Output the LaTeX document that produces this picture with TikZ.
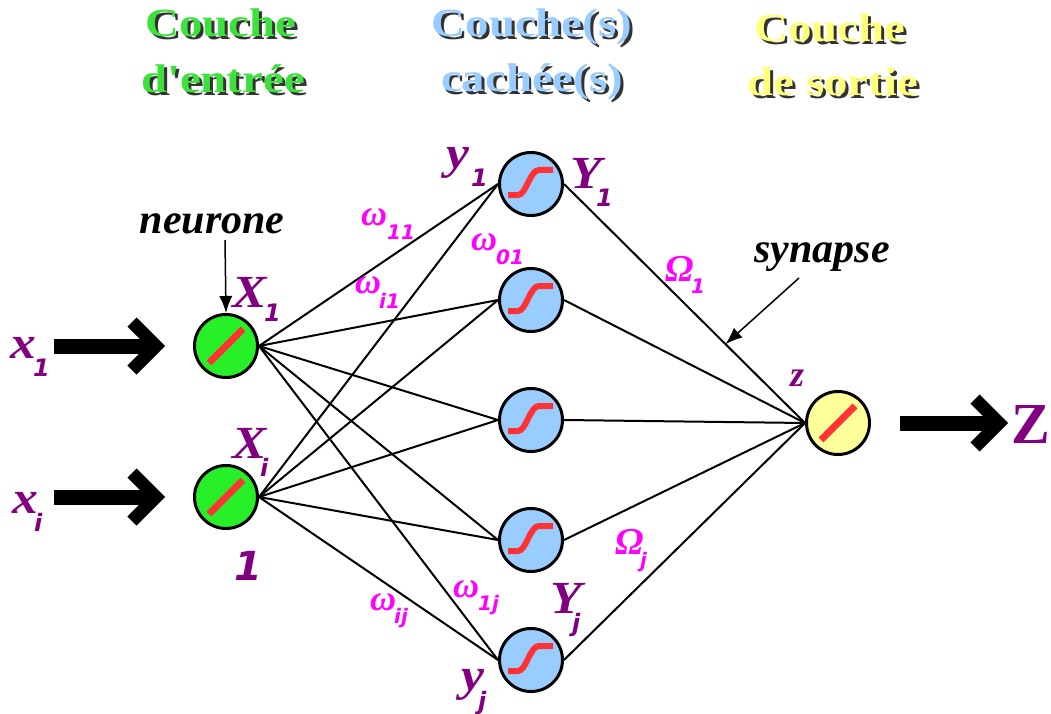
\documentclass[tikz,border=0pt]{standalone}
\usepackage{fontspec}
\usepackage{graphicx}
\setmainfont{Liberation Serif}
\newfontfamily\dvs{DejaVu Sans}[BoldFont={DejaVu Sans Bold},ItalicFont={DejaVu Sans Oblique},BoldItalicFont={DejaVu Sans Bold Oblique}]
\usetikzlibrary{arrows.meta,calc}
\definecolor{lpurple}{RGB}{128,0,128}
\definecolor{lmagenta}{RGB}{255,0,255}
\definecolor{ingreen}{RGB}{40,240,40}
\definecolor{hidblue}{RGB}{153,204,255}
\definecolor{outyellow}{RGB}{255,255,153}
\definecolor{markred}{RGB}{255,51,51}
\definecolor{tgreen}{RGB}{60,225,60}
\definecolor{tblue}{RGB}{153,204,255}
\definecolor{tyellow}{RGB}{255,255,120}
\newcommand\shadowed[2]{\scalebox{1.17}[1]{\makebox[0pt][l]{\raisebox{-2.5pt}{\kern2.5pt\textcolor{black!80}{#2}}}\textcolor{#1}{#2}}}
\newcommand\wide[1]{\scalebox{1.12}[1]{#1}}
\begin{document}
\begin{tikzpicture}[x=1pt,y=-1pt,
  neuronbase/.style={circle,draw=black,line width=3pt,minimum size=63pt,inner sep=0pt},
  inneuron/.style={neuronbase,fill=ingreen},
  hidneuron/.style={neuronbase,fill=hidblue},
  outneuron/.style={neuronbase,fill=outyellow},
  edge/.style={line width=2pt},
  redmark/.style={draw=markred,line width=7pt},
  sigm/.style={draw=markred,line width=6pt},
  bigshaft/.style={line width=15pt},
  chev/.style={line width=13pt,line join=miter},
  pointer/.style={line width=1.5pt,-{Latex[length=17pt,width=13pt]}},
  title/.style={font=\fontsize{40}{40}\selectfont\bfseries,anchor=base,inner sep=0pt},
  ann/.style={font=\fontsize{42}{42}\selectfont\bfseries\itshape,anchor=base,inner sep=0pt},
  plab/.style={text=lpurple,font=\fontsize{46}{46}\selectfont\bfseries\itshape,anchor=base west,inner sep=0pt},
  psub/.style={text=lpurple,font=\dvs\fontsize{24}{24}\selectfont\bfseries\itshape,anchor=base west,inner sep=0pt},
  wlab/.style={text=lmagenta,font=\fontsize{36}{36}\selectfont\bfseries\itshape,anchor=base west,inner sep=0pt},
  wsub/.style={text=lmagenta,font=\dvs\fontsize{20}{20}\selectfont\bfseries\itshape,anchor=base west,inner sep=0pt}
]
\useasboundingbox (0,0) rectangle (1051,714);

% titles
\node[title] (t1a) at (221,37) {\shadowed{tgreen}{Couche}};
\node[title] (t1b) at (223,93) {\shadowed{tgreen}{d\textquotesingle entrée}};
\node[title] (t2a) at (532,37) {\shadowed{tblue}{Couche(s)}};
\node[title] (t2b) at (532,92) {\shadowed{tblue}{cachée(s)}};
\node[title] (t3a) at (830,42) {\shadowed{tyellow}{Couche}};
\node[title] (t3b) at (833,96) {\shadowed{tyellow}{de sortie}};

% neurons
\node[inneuron] (X1) at (226,346) {};
\node[inneuron] (Xi) at (226,497) {};
\node[hidneuron] (H1) at (531,184) {};
\node[hidneuron] (H2) at (531,300) {};
\node[hidneuron] (H3) at (531,420) {};
\node[hidneuron] (H4) at (531,540) {};
\node[hidneuron] (H5) at (531,660) {};
\node[outneuron] (Z) at (838,423) {};

% connections
\foreach \h in {H1,H2,H3,H4,H5}{
  \draw[edge] (X1.east) -- (\h.west);
  \draw[edge] (Xi.east) -- (\h.west);
  \draw[edge] (\h.east) -- (Z.west);
}

% activation marks
\foreach \n in {X1,Xi,Z}{
  \draw[redmark] ($(\n)+(-17,17)$) -- ($(\n)+(17,-17)$);
}
\foreach \n in {H1,H2,H3,H4,H5}{
  \draw[sigm] ($(\n)+(-23,11)$) -- ($(\n)+(-13,11)$) .. controls ($(\n)+(-5,11)$) and ($(\n)+(-1,-14)$) .. ($(\n)+(8,-14)$) -- ($(\n)+(22,-14)$);
}

% input / output arrows
\coordinate (in1) at (54,346);
\coordinate (tip1) at (156,346);
\draw[bigshaft] (in1) -- ($(tip1)+(-6,0)$);
\draw[chev] ($(tip1)+(-24,-24)$) -- (tip1) -- ($(tip1)+(-24,24)$);
\coordinate (ini) at (54,497);
\coordinate (tipi) at (156,497);
\draw[bigshaft] (ini) -- ($(tipi)+(-6,0)$);
\draw[chev] ($(tipi)+(-24,-24)$) -- (tipi) -- ($(tipi)+(-24,24)$);
\coordinate (tipz) at (999,423);
\draw[bigshaft] ($(Z.east)+(29,0)$) -- ($(tipz)+(-6,0)$);
\draw[chev] ($(tipz)+(-24,-24)$) -- (tipz) -- ($(tipz)+(-24,24)$);

% annotations
\node[ann] (neur) at (212,233) {neurone};
\coordinate (neurstart) at (225,240);
\draw[pointer] (neurstart) -- (X1.north);
\node[ann] (syn) at (822,262) {synapse};
\coordinate (synstart) at (799,278);
\draw[pointer] (synstart) -- ($(H1.east)!0.67!(Z.west)$);

% purple labels
\node[plab] (lx1) at (10,358) {\wide{x}};
\node[psub] (lx1s) at (33,376) {1};
\node[plab] (lxi) at (12,513) {\wide{x}};
\node[psub] (lxis) at (34,531) {i};
\node[plab] (lX1) at (232,307) {\wide{X}};
\node[psub] (lX1s) at (264,321) {1};
\node[plab] (lXi) at (232,458) {\wide{X}};
\node[psub] (lXis) at (260,476) {i};
\node[plab,font=\dvs\fontsize{40}{40}\selectfont\bfseries\itshape] (lone) at (234,580) {1};
\node[plab] (ly1) at (446,168) {\wide{y}};
\node[psub] (ly1s) at (471,186) {1};
\node[plab] (lY1) at (570,189) {\wide{Y}};
\node[psub] (lY1s) at (596,206) {1};
\node[plab] (lYj) at (550,613) {\wide{Y}};
\node[psub] (lYjs) at (572,631) {j};
\node[plab] (lyj) at (461,690) {\wide{y}};
\node[psub] (lyjs) at (478,709) {j};
\node[plab,font=\fontsize{36}{36}\selectfont\bfseries\itshape] (lz) at (790,386) {z};
\node[plab,font=\fontsize{58}{58}\selectfont\bfseries] (lZ) at (1011,443) {Z};

% weights
\node[wlab] (w11) at (361,225) {ω};
\node[wsub] (w11s) at (387,239) {11};
\node[wlab] (wi1) at (355,293) {ω};
\node[wsub] (wi1s) at (379,308) {i1};
\node[wlab] (w01) at (471,250) {ω};
\node[wsub] (w01s) at (496,264) {01};
\node[wlab] (wij) at (370,610) {ω};
\node[wsub] (wijs) at (394,623) {ij};
\node[wlab] (w1j) at (453,597) {ω};
\node[wsub] (w1js) at (478,610) {1j};
\node[wlab,font=\fontsize{38}{38}\selectfont\bfseries\itshape] (O1) at (665,281) {Ω};
\node[wsub] (O1s) at (691,293) {1};
\node[wlab,font=\fontsize{38}{38}\selectfont\bfseries\itshape] (Oj) at (615,554) {Ω};
\node[wsub] (Ojs) at (640,567) {j};
\end{tikzpicture}
\end{document}
